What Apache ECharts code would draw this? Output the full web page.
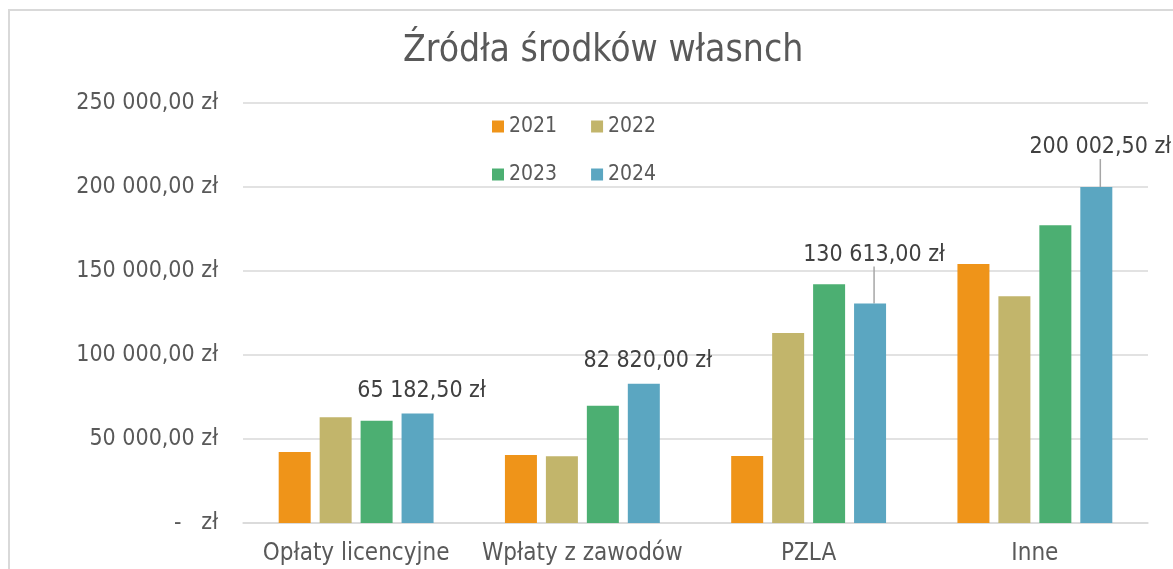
<!DOCTYPE html>
<html>
<head>
<meta charset="utf-8">
<script src="https://cdn.jsdelivr.net/npm/echarts@6/dist/echarts.min.js"></script>
<style>
  html, body { margin: 0; padding: 0; background: #fff; }
  #chart { width: 1173px; height: 569px; }
</style>
</head>
<body>
<div id="chart"></div>
<script>
const categories = ['Opłaty licencyjne', 'Wpłaty z zawodów', 'PZLA', 'Inne']
const years = ['2021', '2022', '2023', '2024']
const values2021 = [42300, 40500, 39900, 154200]
const values2022 = [62900, 39700, 113100, 134900]
const values2023 = [60900, 69800, 142100, 177200]
const values2024 = [65182.5, 82820, 130613, 200002.5]
const yTicks = { min: 0, max: 250000, interval: 50000 }

const colors = ['#ef9419', '#c2b56b', '#4caf72', '#5ba6c1']
const textColor = '#595959'
const fontFamily = '"DejaVu Sans Condensed", "DejaVu Sans", sans-serif'

// 12345.5 -> "12 345,50 zł"
function zl(v) {
  if (v === 0) return '-   zł'
  const parts = v.toFixed(2).split('.')
  const int = parts[0].replace(/\B(?=(\d{3})+(?!\d))/g, ' ')
  return int + ',' + parts[1] + ' zł'
}

const chart = echarts.init(document.getElementById('chart'))

const seriesData = [values2021, values2022, values2023, values2024]
const series = years.map((y, i) => {
  const s = {
    name: y,
    type: 'bar',
    data: seriesData[i],
    barWidth: 32,
    barGap: '28%',
    itemStyle: { color: colors[i] }
  }
  if (i === 3) {
    // PZLA i Inne: etykieta odsunięta z linią
    s.data = seriesData[i].map((v, k) => ({ value: v, labelLine: { show: k >= 2 } }))
    s.label = {
      show: true,
      position: 'top',
      distance: 5,
      padding: [0, 0, 6, 8],
      color: '#404040',
      fontSize: 23,
      fontFamily: fontFamily,
      formatter: p => zl(p.value)
    }
    s.labelLine = { lineStyle: { color: '#a6a6a6', width: 1.5 } }
    s.labelLayout = p => {
      if (p.dataIndex === 2) return { dy: -26 }
      if (p.dataIndex === 3) return { dy: -17 }
      return {}
    }
  }
  return s
})

const legendBase = {
  left: 492,
  padding: 0,
  icon: 'rect',
  itemWidth: 12,
  itemHeight: 12,
  itemGap: 34,
  textStyle: { color: textColor, fontSize: 21, fontFamily: fontFamily }
}

const option = {
  animation: false,
  color: colors,
  textStyle: { fontFamily: fontFamily },
  title: {
    text: 'Źródła środków własnch',
    left: 398,
    top: 28,
    textStyle: { color: textColor, fontSize: 37, fontWeight: 'normal', fontFamily: fontFamily }
  },
  legend: [
    Object.assign({}, legendBase, { data: ['2021', '2022'], top: 116 }),
    Object.assign({}, legendBase, { data: ['2023', '2024'], top: 164 })
  ],
  grid: { left: 243, right: 25, top: 103, bottom: 46 },
  xAxis: {
    type: 'category',
    data: categories,
    axisTick: { show: false },
    axisLine: { lineStyle: { color: '#d9d9d9', width: 1.5 } },
    axisLabel: { color: textColor, fontSize: 24, margin: 19, interval: 0, hideOverlap: false, fontFamily: fontFamily }
  },
  yAxis: {
    type: 'value',
    min: yTicks.min,
    max: yTicks.max,
    interval: yTicks.interval,
    axisLine: { show: false },
    axisTick: { show: false },
    splitLine: { lineStyle: { color: '#d9d9d9', width: 1.5 } },
    axisLabel: { color: textColor, fontSize: 23, margin: 25, fontFamily: fontFamily, formatter: zl }
  },
  graphic: [
    {
      type: 'rect',
      shape: { x: 9, y: 10, width: 1200, height: 600 },
      style: { fill: 'none', stroke: '#d9d9d9', lineWidth: 2 },
      silent: true
    }
  ],
  series: series
}

chart.setOption(option)
</script>
</body>
</html>
